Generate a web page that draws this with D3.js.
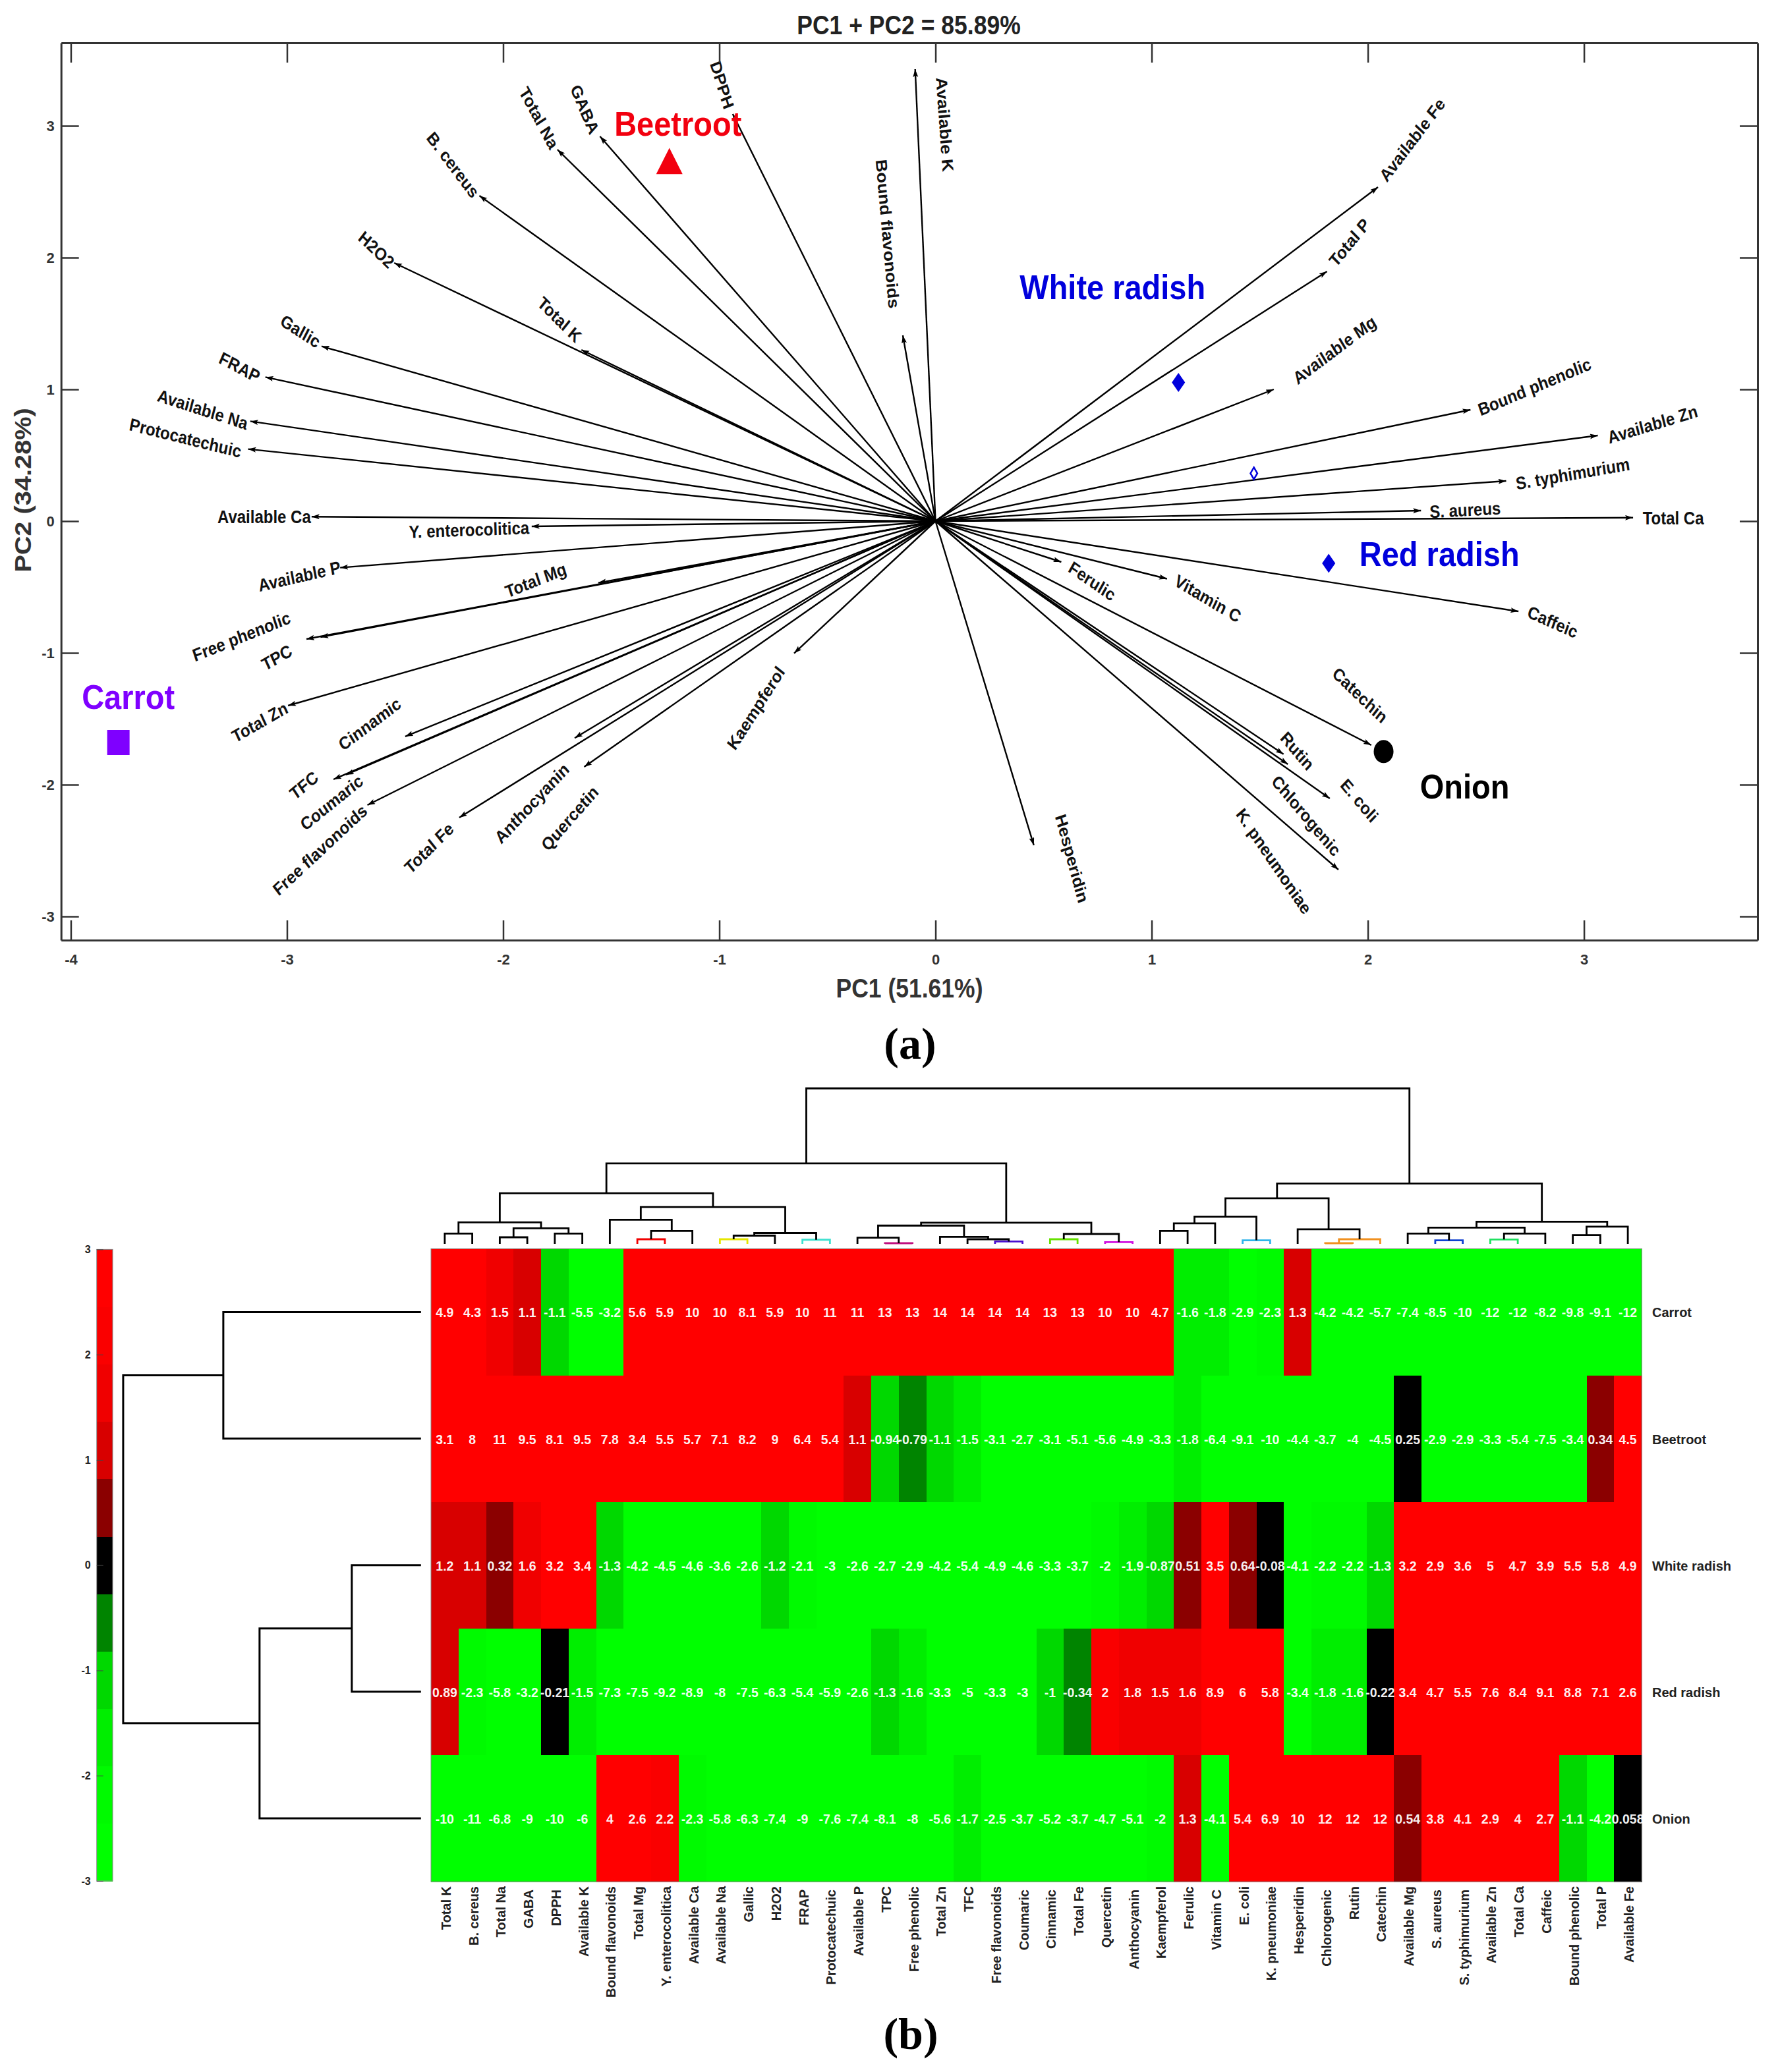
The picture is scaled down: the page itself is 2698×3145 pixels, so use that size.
<!DOCTYPE html>
<html><head><meta charset="utf-8">
<script src="https://cdn.jsdelivr.net/npm/d3@7"></script>
<style>html,body{margin:0;padding:0;background:#fff}svg{display:block}text{font-family:"Liberation Sans",Arial,sans-serif;font-weight:bold}</style>
</head><body><svg id="c" width="2698" height="3145" xmlns="http://www.w3.org/2000/svg"></svg>
<script>
// ---------- biplot data ----------
const loadingNames = ["DPPH","GABA","Total Na","B. cereus","H2O2","Total K","Gallic","FRAP","Available Na","Protocatechuic","Available Ca","Bound flavonoids","Available K","Available Fe","Total P","Available Mg","Bound phenolic","Available Zn","S. typhimurium","S. aureus","Total Ca","Y. enterocolitica","Available P","Total Mg","Free phenolic","TPC","Total Zn","Cinnamic","TFC","Coumaric","Free flavonoids","Total Fe","Anthocyanin","Quercetin","Kaempferol","Ferulic","Vitamin C","Caffeic","Catechin","Rutin","Chlorogenic","E. coli","K. pneumoniae","Hesperidin"];
const loadingPC1 = [-0.938,-1.552,-1.749,-2.11,-2.504,-1.638,-2.84,-3.10,-3.17,-3.18,-2.886,-0.151,-0.094,2.047,1.811,1.565,2.475,3.064,2.64,2.246,3.227,-1.868,-2.754,-1.56,-2.845,-2.91,-2.995,-2.453,-2.785,-2.727,-2.628,-2.203,-1.669,-1.625,-0.654,0.582,1.071,2.697,2.016,1.61,1.63,1.824,1.864,0.455];
const loadingPC2 = [3.09,2.92,2.82,2.47,1.96,1.30,1.327,1.093,0.758,0.547,0.034,1.41,3.43,2.535,1.895,1.0,0.845,0.65,0.305,0.08,0.026,-0.04,-0.353,-0.468,-0.88,-0.895,-1.40,-1.634,-1.96,-1.925,-2.155,-2.25,-1.646,-1.865,-1.003,-0.31,-0.4375,-0.685,-1.70,-1.769,-1.845,-2.105,-2.645,-2.46];
const sampleNames = ["Beetroot","White radish","Red radish","Onion","Carrot"];
const samplePC1 = [-1.231,1.124,1.819,2.073,-3.78];
const samplePC2 = [2.70,1.052,-0.32,-1.749,-1.68];
const extraPoint = [1.473,0.363];
const xTicks = [-4,-3,-2,-1,0,1,2,3];
const yTicks = [-3,-2,-1,0,1,2,3];

// ---------- heatmap data ----------
const columns = ["Total K","B. cereus","Total Na","GABA","DPPH","Available K","Bound flavonoids","Total Mg","Y. enterocolitica","Available Ca","Available Na","Gallic","H2O2","FRAP","Protocatechuic","Available P","TPC","Free phenolic","Total Zn","TFC","Free flavonoids","Coumaric","Cinnamic","Total Fe","Quercetin","Anthocyanin","Kaempferol","Ferulic","Vitamin C","E. coli","K. pneumoniae","Hesperidin","Chlorogenic","Rutin","Catechin","Available Mg","S. aureus","S. typhimurium","Available Zn","Total Ca","Caffeic","Bound phenolic","Total P","Available Fe"];
const rows = ["Carrot","Beetroot","White radish","Red radish","Onion"];
const carrot = [4.9,4.3,1.5,1.1,-1.1,-5.5,-3.2,5.6,5.9,10,10,8.1,5.9,10,11,11,13,13,14,14,14,14,13,13,10,10,4.7,-1.6,-1.8,-2.9,-2.3,1.3,-4.2,-4.2,-5.7,-7.4,-8.5,-10,-12,-12,-8.2,-9.8,-9.1,-12];
const beetroot = [3.1,8,11,9.5,8.1,9.5,7.8,3.4,5.5,5.7,7.1,8.2,9,6.4,5.4,1.1,-0.94,-0.79,-1.1,-1.5,-3.1,-2.7,-3.1,-5.1,-5.6,-4.9,-3.3,-1.8,-6.4,-9.1,-10,-4.4,-3.7,-4,-4.5,0.25,-2.9,-2.9,-3.3,-5.4,-7.5,-3.4,0.34,4.5];
const whiteRadish = [1.2,1.1,0.32,1.6,3.2,3.4,-1.3,-4.2,-4.5,-4.6,-3.6,-2.6,-1.2,-2.1,-3,-2.6,-2.7,-2.9,-4.2,-5.4,-4.9,-4.6,-3.3,-3.7,-2,-1.9,-0.87,0.51,3.5,0.64,-0.08,-4.1,-2.2,-2.2,-1.3,3.2,2.9,3.6,5,4.7,3.9,5.5,5.8,4.9];
const redRadish = [0.89,-2.3,-5.8,-3.2,-0.21,-1.5,-7.3,-7.5,-9.2,-8.9,-8,-7.5,-6.3,-5.4,-5.9,-2.6,-1.3,-1.6,-3.3,-5,-3.3,-3,-1,-0.34,2,1.8,1.5,1.6,8.9,6,5.8,-3.4,-1.8,-1.6,-0.22,3.4,4.7,5.5,7.6,8.4,9.1,8.8,7.1,2.6];
const onion = [-10,-11,-6.8,-9,-10,-6,4,2.6,2.2,-2.3,-5.8,-6.3,-7.4,-9,-7.6,-7.4,-8.1,-8,-5.6,-1.7,-2.5,-3.7,-5.2,-3.7,-4.7,-5.1,-2,1.3,-4.1,5.4,6.9,10,12,12,12,0.54,3.8,4.1,2.9,4,2.7,-1.1,-4.2,0.058];
const heatValues = [carrot,beetroot,whiteRadish,redRadish,onion];
const colorTicks = [-3,-2,-1,0,1,2,3];

// ---------- dendrograms: [merge distance, left, right]; a bare number is a leaf ----------
const clusterA = [32.6,[15.6,0,1],[23.6,[10,2,3],[15.6,4,5]]];
const clusterB = [36.6,6,[19.6,[7,7,8],9]];
const clusterC = [16.5,[12.5,[7,10,11],12],[6.25,13,14]];
const clusterD = [27.7,[9.4,15,[1,16,17]],[10.7,18,[7,19,[3.6,20,21]]]];
const clusterE = [15,[7,22,23],[2.7,24,25]];
const clusterF = [41,[31,[19.6,26,27],28],[5.4,29,30]];
const clusterG = [22,31,[7,[1,32,33],34]];
const clusterH = [24.5,[15.6,35,[5.4,36,37]],[15.6,[6.7,38,39],40]];
const clusterI = [26,[13.4,41,42],43];
const columnTree = [235.7,[122,[76.8,clusterA,[55.8,clusterB,clusterC]],[32,clusterD,clusterE]],[91.5,[69,clusterF,clusterG],[33.5,clusterH,clusterI]]];
const rowTree = [452,[300,0,1],[245,[105,2,3],4]];

// ---------- styling / layout tables (not data) ----------
const STRETCH = 1.12;            // panel (a) text is taller than it is wide
const labelOffsets = [[-16,-44,73],[-23,-41,67],[-28,-48,62],[-40,-47,53],[-27,-20,44],[-33,-46,45],[-32,-23,33],[-39,-15,28],[-72,-18,18],[-95,-17,14],[-72,0,0],[-23,-154,85],[45,84,86],[52,-72,-53],[34,-44,-51],[92,-60,-37],[97,-35,-23],[83,-17,-17],[101,-11,-10],[67,-1,-3],[61,1,0],[-95,5,-2],[-62,13,-13],[-95,-4,-22],[-120,-1,-22],[-45,28,-30],[-43,25,-30],[-54,-19,-37],[-45,9,-40],[-22,42,-39],[-72,68,-43],[-46,46,-45],[-65,99,-47],[-22,78,-49],[-58,83,-57.5],[47,29,35],[62,30,31],[52,16,24],[-17,-76,44],[21,-5,50],[28,78,50],[45,3,50],[-98,-13,56],[58,20,75]];
const sampleOffsets = [[13,-63],[-100,-145],[168,-14],[123,53],[15,-69]];
const sampleColors = ["#f2000f","#0000dc","#0000dc","#000","#7f00ff"];
const sampleSymbols = [
  {t:d3.symbolTriangle,s:693,sx:1,sy:1.15},
  {t:d3.symbolDiamond,s:243,sx:1.2,sy:1},
  {t:d3.symbolDiamond,s:243,sx:1.2,sy:1},
  {t:d3.symbolCircle,s:707,sx:1,sy:1.17},
  {t:d3.symbolSquare,s:1156,sx:1,sy:1.12}];
const loweredColumnLabels = new Set(["GABA","DPPH","FRAP","Protocatechuic","Coumaric","Cinnamic","Anthocyanin","Vitamin C","Chlorogenic","S. aureus","S. typhimurium","Caffeic"]);
const branchColors = {"7-8":"#f00000","10-11":"#e6e600","13-14":"#3fe0d0","16-17":"#c0107f","20-21":"#4a10d0","22-23":"#66e000","24-25":"#d010e0","29-30":"#30b4ea","32-33":"#f09020","32-34":"#f09020","36-37":"#1040d0","38-39":"#20e060"};
const colorBins = ["#00ff00","#00fa00","#00ee00","#00d800","#008400","#000000","#8b0000","#d80000","#f00000","#fa0000","#ff0000"];

// place a centred text at (cx,cy) so that after the vertical stretch it reads at the visible angle
function stretched(cx,cy,angle){
  const r=angle*Math.PI/180;
  const inner=Math.atan2(Math.sin(r),STRETCH*Math.cos(r))*180/Math.PI;
  return `translate(${cx},${cy}) scale(1,${STRETCH}) rotate(${inner})`;
}

const svg = d3.select("#c");
svg.append("defs").append("marker").attr("id","arrow").attr("markerUnits","userSpaceOnUse")
  .attr("markerWidth",13).attr("markerHeight",9).attr("refX",12).attr("refY",4).attr("orient","auto")
  .append("path").attr("d","M0,0L12,4L0,8L2.5,4Z").attr("fill","#000");

// ---------- panel (a) ----------
const x = d3.scaleLinear().domain([-4.045,3.803]).range([92.7,2667]);
const y = d3.scaleLinear().domain([-3.18,3.63]).range([1427,65]);
const AX = "#333";
const gA = svg.append("g");

gA.append("g").selectAll("line").data(loadingNames).join("line")
  .attr("x1",x(0)).attr("y1",y(0))
  .attr("x2",(d,i)=>x(loadingPC1[i])).attr("y2",(d,i)=>y(loadingPC2[i]))
  .attr("stroke","#000").attr("stroke-width",2.4).attr("marker-end","url(#arrow)");

gA.append("g").selectAll("text").data(loadingNames).join("text")
  .attr("text-anchor","middle").attr("dominant-baseline","central")
  .attr("font-size",24).attr("fill","#111")
  .attr("transform",(d,i)=>stretched(x(loadingPC1[i])+labelOffsets[i][0],y(loadingPC2[i])+labelOffsets[i][1],labelOffsets[i][2]))
  .text(d=>d);

function styleAxis(g){
  g.select(".domain").attr("stroke",AX).attr("stroke-width",3);
  g.selectAll(".tick line").attr("stroke",AX).attr("stroke-width",2.5);
  g.selectAll("text").attr("fill",AX).attr("font-size",22).attr("font-family",'"Liberation Sans"').attr("font-weight","bold");
}
gA.append("g").attr("transform",`translate(0,${y.range()[0]})`)
  .call(d3.axisBottom(x).tickValues(xTicks).tickSize(-30).tickSizeOuter(0).tickPadding(21).tickFormat(String)).call(styleAxis);
gA.append("g").attr("transform",`translate(0,${y.range()[1]})`)
  .call(d3.axisTop(x).tickValues(xTicks).tickSize(-30).tickSizeOuter(0).tickFormat("")).call(styleAxis);
gA.append("g").attr("transform",`translate(${x.range()[0]},0)`)
  .call(d3.axisLeft(y).tickValues(yTicks).tickSize(-27).tickSizeOuter(0).tickPadding(10).tickFormat(String)).call(styleAxis);
gA.append("g").attr("transform",`translate(${x.range()[1]},0)`)
  .call(d3.axisRight(y).tickValues(yTicks).tickSize(-27).tickSizeOuter(0).tickFormat("")).call(styleAxis);

const sym = d3.symbol();
gA.append("g").selectAll("path").data(sampleNames).join("path")
  .attr("d",(d,i)=>sym.type(sampleSymbols[i].t).size(sampleSymbols[i].s)())
  .attr("fill",(d,i)=>sampleColors[i])
  .attr("transform",(d,i)=>`translate(${x(samplePC1[i])},${y(samplePC2[i])}) scale(${sampleSymbols[i].sx},${sampleSymbols[i].sy})`);
gA.append("path").attr("d",d3.symbol().type(d3.symbolDiamond).size(94)())
  .attr("fill","#fff").attr("stroke","#0000dc").attr("stroke-width",2.5)
  .attr("transform",`translate(${x(extraPoint[0])},${y(extraPoint[1])})`);
gA.append("g").selectAll("text").data(sampleNames).join("text")
  .attr("text-anchor","middle").attr("dominant-baseline","central").attr("font-size",47)
  .attr("fill",(d,i)=>sampleColors[i])
  .attr("transform",(d,i)=>stretched(x(samplePC1[i])+sampleOffsets[i][0],y(samplePC2[i])+sampleOffsets[i][1],0))
  .text(d=>d);

const centred = (t,cx,cy,angle,fill)=>gA.append("text").attr("text-anchor","middle").attr("dominant-baseline","central")
  .attr("font-size",35.5).attr("fill",fill).attr("transform",stretched(cx,cy,angle)).text(t);
centred("PC1 + PC2 = 85.89%",1379,38.5,0,"#222");
centred("PC1 (51.61%)",1380,1500,0,"#333");
centred("PC2 (34.28%)",35,744,-90,"#333");
svg.append("text").attr("x",1381).attr("y",1607).attr("text-anchor","middle").attr("font-size",68).style("font-family",'"Liberation Serif"').text("(a)");
svg.append("text").attr("x",1382).attr("y",3110).attr("text-anchor","middle").attr("font-size",68).style("font-family",'"Liberation Serif"').text("(b)");

// ---------- panel (b) ----------
const colX = d3.scaleBand().domain(d3.range(columns.length)).range([654,2491]);
const rowY = d3.scaleBand().domain(d3.range(rows.length)).range([1895.4,2856]);
const color = d3.scaleQuantize().domain(d3.extent(colorTicks)).range(colorBins);
const clamp = v => Math.max(-3,Math.min(2.999,v));
const gB = svg.append("g");

const cells = heatValues.flatMap((row,r)=>row.map((v,c)=>({r,c,v})));
gB.append("g").attr("shape-rendering","crispEdges").selectAll("rect").data(cells).join("rect")
  .attr("x",d=>colX(d.c)).attr("y",d=>rowY(d.r))
  .attr("width",colX.bandwidth()+0.5).attr("height",rowY.bandwidth()+0.5)
  .attr("fill",d=>color(clamp(d.v)));
gB.append("rect").attr("x",654).attr("y",1895.4).attr("width",1837).attr("height",960.6)
  .attr("fill","none").attr("stroke","#888").attr("stroke-width",1);
gB.append("g").selectAll("text").data(cells).join("text")
  .attr("x",d=>colX(d.c)+colX.bandwidth()/2).attr("y",d=>rowY(d.r)+rowY.bandwidth()/2+1)
  .attr("text-anchor","middle").attr("dominant-baseline","central").attr("font-size",19.5)
  .attr("fill","#fff").attr("fill-opacity",0.94).text(d=>d.v);

gB.append("g").selectAll("text").data(rows).join("text")
  .attr("x",2507).attr("y",(d,i)=>rowY(i)+rowY.bandwidth()/2+1)
  .attr("dominant-baseline","central").attr("font-size",20).attr("fill","#222").text(d=>d);
gB.append("g").selectAll("text").data(columns).join("text")
  .attr("transform",(d,i)=>`translate(${colX(i)+colX.bandwidth()/2+2},${loweredColumnLabels.has(d)?2868:2863}) rotate(-90)`)
  .attr("text-anchor","end").attr("dominant-baseline","central").attr("font-size",20).attr("fill","#222").text(d=>d);

// dendrograms
function drawTree(g,tree,pos,colorOf,sw){
  function walk(n){
    if(typeof n==="number") return {p:n,h:0,lo:n,hi:n,a:pos(n)};
    const l=walk(n[1]), r=walk(n[2]);
    const lo=Math.min(l.lo,r.lo), hi=Math.max(l.hi,r.hi);
    const a=(l.a+r.a)/2;
    const col=colorOf?colorOf(lo,hi):"#000";
    g.append("path").attr("fill","none").attr("stroke",col||"#000").attr("stroke-width",sw).attr("stroke-linejoin","miter")
      .attr("d",g.pathFor(l.a,l.h,r.a,r.h,n[0]));
    return {h:n[0],lo,hi,a};
  }
  walk(tree);
}
const dTopY = d3.scaleLinear().domain([0,235.7]).range([1888,1652]);
const gTop = gB.append("g");
gTop.pathFor=(a1,h1,a2,h2,h)=>{const p=d3.path();p.moveTo(a1,dTopY(h1));p.lineTo(a1,dTopY(h));p.lineTo(a2,dTopY(h));p.lineTo(a2,dTopY(h2));return p.toString();};
drawTree(gTop,columnTree,i=>colX(i)+colX.bandwidth()/2,(lo,hi)=>branchColors[lo+"-"+hi],2.8);

const dLeftX = d3.scaleLinear().domain([0,452]).range([638.8,186.9]);
const gLeft = gB.append("g");
gLeft.pathFor=(a1,h1,a2,h2,h)=>{const p=d3.path();p.moveTo(dLeftX(h1),a1);p.lineTo(dLeftX(h),a1);p.lineTo(dLeftX(h),a2);p.lineTo(dLeftX(h2),a2);return p.toString();};
drawTree(gLeft,rowTree,i=>rowY(i)+rowY.bandwidth()/2,null,3);

// colour bar
const barY = d3.scaleLinear().domain(d3.extent(colorTicks)).range([2855,1896.4]);
gB.append("g").attr("shape-rendering","crispEdges").selectAll("rect").data(colorBins).join("rect")
  .attr("x",146.7).attr("width",24.3)
  .attr("y",d=>barY(color.invertExtent(d)[1])).attr("height",d=>barY(color.invertExtent(d)[0])-barY(color.invertExtent(d)[1])+0.5)
  .attr("fill",d=>d);
gB.append("rect").attr("x",146.7).attr("y",1896.4).attr("width",24.3).attr("height",958.6).attr("fill","none").attr("stroke","#888").attr("stroke-width",1);
const barAxis = gB.append("g").attr("transform","translate(146.7,0)")
  .call(d3.axisLeft(barY).tickValues(colorTicks).tickSize(-10).tickSizeOuter(0).tickPadding(9).tickFormat(String));
barAxis.select(".domain").remove();
barAxis.selectAll(".tick line").attr("stroke","#444").attr("stroke-width",1);
barAxis.selectAll("text").attr("fill","#222").attr("font-size",16).attr("font-family",'"Liberation Sans"').attr("font-weight","bold");
</script></body></html>
